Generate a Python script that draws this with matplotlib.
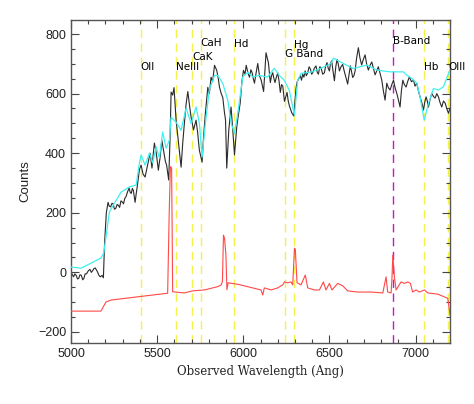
import matplotlib
matplotlib.use("Agg")
import matplotlib.pyplot as plt
from matplotlib.ticker import MultipleLocator

# observed spectrum (black)
obs_wave = [5000, 5008, 5015, 5022, 5030, 5038, 5045, 5052, 5060, 5068, 5075, 5082, 5090, 5100,
            5110, 5118, 5125, 5132, 5140, 5148, 5155, 5162, 5170, 5180, 5188, 5195,
            5205, 5215, 5222, 5230, 5238, 5245, 5252, 5260, 5268, 5275, 5282, 5290, 5298, 5305,
            5312, 5320, 5328, 5337, 5344, 5350, 5356, 5362, 5367, 5372, 5378, 5385,
            5397, 5407, 5418, 5430, 5438, 5445, 5459, 5470, 5477, 5484, 5495, 5507, 5518, 5527,
            5534, 5540, 5548, 5555,
            5567, 5575, 5581, 5590, 5598, 5610, 5625, 5639, 5648, 5658, 5668, 5678, 5688, 5697,
            5711, 5726, 5735, 5745,
            5761, 5770, 5780, 5794, 5803, 5813, 5822, 5833, 5846, 5855, 5862, 5872, 5881, 5890,
            5897, 5904, 5916, 5929, 5940, 5949, 5962,
            5972, 5982, 5992, 6001, 6010, 6017, 6027, 6036, 6044, 6051, 6058, 6065, 6074, 6084,
            6094, 6104, 6118, 6132, 6146, 6157, 6164, 6171, 6178, 6184,
            6192, 6200, 6208, 6215, 6222, 6229, 6239, 6247, 6254, 6261, 6268, 6281, 6293, 6306,
            6313, 6320, 6331, 6338, 6345, 6352, 6359, 6366, 6374,
            6382, 6390, 6397, 6403, 6412, 6422, 6429, 6436, 6444, 6451, 6461, 6471, 6478, 6486,
            6493, 6500, 6506, 6513, 6521, 6529, 6537, 6544, 6551, 6558, 6567, 6577, 6584, 6591,
            6598, 6606, 6614, 6622, 6628, 6635, 6642, 6649, 6658, 6668, 6677, 6687, 6697, 6707,
            6716, 6726, 6736, 6746, 6755, 6765, 6774, 6784, 6794, 6804, 6813, 6823, 6833,
            6842, 6852, 6862, 6872, 6881, 6891, 6900, 6910, 6918, 6926, 6935, 6945, 6954, 6964,
            6976, 6988, 6997, 7007, 7016, 7026, 7036, 7046, 7053, 7061, 7068, 7075, 7084, 7094,
            7104, 7114, 7123, 7133, 7142, 7152, 7162, 7172, 7181, 7191, 7200]
obs_flux = [0, -8, -15, -5, -10, -22, -20, -8, -10, -25, -20, -5, -5, 5,
            10, 0, 5, 12, 15, 8, 0, -10, -15, -10, -18, 100,
            200, 235, 222, 220, 232, 230, 212, 215, 228, 225, 218, 240, 236, 230,
            248, 255, 270, 283, 268, 265, 282, 275, 255, 235, 262, 290,
            345, 360, 330, 320, 342, 360, 400, 350, 395, 434, 400, 343, 390, 444,
            420, 400, 372, 360,
            310, 450, 605, 595, 620, 511, 430, 353, 430, 500, 565, 607, 560, 521,
            478, 511, 470, 410,
            370, 460, 534, 621, 600, 655, 640, 695, 678, 650, 621, 600, 587, 540,
            511, 350, 478, 555, 470, 394, 488,
            530, 568, 640, 678, 665, 695, 670, 655, 680, 671, 650, 635, 668, 701,
            660, 645, 607, 737, 703, 637, 660, 670, 650, 637,
            655, 670, 640, 604, 630, 626, 574, 590, 604, 575, 558, 536, 525, 618,
            640, 648, 660, 645, 665, 655, 676, 660, 670,
            690, 682, 665, 670, 685, 693, 672, 665, 690, 687, 665, 670, 692, 704,
            685, 676, 700, 710, 675, 643, 690, 715, 700, 676, 690, 698, 680, 665,
            650, 632, 665, 693, 675, 654, 660, 676, 720, 754, 720, 696, 715, 730,
            700, 679, 695, 706, 685, 663, 675, 690, 668, 645, 610, 578, 635,
            620, 612, 630, 645, 620, 601, 580, 555, 610, 645, 630, 622, 640, 656,
            640, 645, 625, 635, 610, 589, 570, 545, 570, 589, 575, 555, 580, 601,
            590, 585, 600, 589, 570, 555, 575, 568, 550, 534, 551]

# template fit (cyan)
tpl_wave = [5000, 5058, 5116, 5174, 5190, 5203, 5223, 5252, 5290, 5339, 5378, 5397, 5407,
            5430, 5455, 5474, 5494, 5513, 5532, 5552, 5571, 5581, 5610, 5639, 5668, 5697,
            5726, 5745, 5761, 5780, 5803, 5833, 5852, 5881, 5910, 5930, 5949, 5968, 5997,
            6026, 6055, 6094, 6133, 6142, 6180, 6209, 6238, 6267, 6287, 6297, 6316, 6335,
            6393, 6451, 6509, 6523, 6581, 6639, 6717, 6775, 6852, 6930, 6949, 6978, 7007,
            7026, 7050, 7075, 7104, 7133, 7162, 7191, 7200]
tpl_flux = [18, 14, 31, 48, 65, 119, 203, 232, 269, 287, 293, 367, 394,
            360, 400, 367, 421, 384, 471, 417, 444, 521, 504, 477, 551, 500,
            555, 500, 387, 500, 614, 661, 661, 634, 578, 500, 467, 534, 656,
            672, 656, 661, 656, 656, 685, 661, 645, 611, 555, 528, 645, 668,
            672, 685, 701, 719, 701, 684, 696, 679, 673, 673, 662, 651, 635,
            589, 511, 567, 617, 612, 623, 667, 680]

# sky spectrum (red)
sky_wave = [5000, 5174, 5203, 5232, 5387, 5561, 5570, 5577, 5584, 5590, 5658, 5707, 5774,
            5851, 5872, 5879, 5885, 5891, 5899, 5905, 5912, 5968, 6026, 6103, 6113, 6122, 6161,
            6200, 6229, 6239, 6258, 6277, 6287, 6297, 6302, 6312, 6335, 6360, 6374, 6413,
            6442, 6465, 6480, 6500, 6515, 6548, 6577, 6606, 6664, 6742, 6810, 6820, 6829,
            6838, 6858, 6863, 6868, 6877, 6887, 6916, 6935, 6955, 6970, 6983, 7003, 7022,
            7052, 7071, 7129, 7187, 7200]
sky_flux = [-130, -130, -99, -93, -82, -70, 200, 355, 350, -65, -69, -62, -59,
            -48, -42, -30, 125, 115, 60, -58, -35, -40, -48, -59, -76, -52, -59,
            -52, -42, -32, -35, -32, -42, 81, 78, -35, -42, -9, -52, -59,
            -59, -32, -59, -37, -59, -37, -45, -62, -66, -66, -69, -40, -15,
            -66, -69, -20, 58, -15, -59, -32, -37, -32, -37, -66, -59, -66,
            -59, -69, -73, -87, -143]

# spectral features
redshift = 0.45
line_names = ["OII", "NeIII", "CaK", "CaH", "Hd", "G Band", "Hg", "Hb", "OIII"]
line_rest = [3727, 3869, 3934, 3968, 4102, 4304, 4340, 4861, 4959]
label_y = [689, 689, 723, 770, 766, 733, 763, 689, 689]
bband_wave = 6870
bband_name = "B-Band"
bband_y = 777

fig = plt.figure(figsize=(4.74, 4.04), dpi=100)
ax = fig.add_axes([0.1498, 0.151, 0.7996, 0.7995])

for name, rest, ly in zip(line_names, line_rest, label_y):
    w = rest * (1 + redshift)
    ax.axvline(w, color="#f2f24a", lw=1.0, dashes=(6, 4), zorder=1)
    ax.text(w, ly, name, fontsize=7.5, family="DejaVu Sans", va="center", ha="left", zorder=5)
ax.axvline(bband_wave, color="#d010d0", lw=1.0, dashes=(6, 4), zorder=1)
ax.text(bband_wave, bband_y, bband_name, fontsize=7.5, family="DejaVu Sans", va="center", ha="left", zorder=5)

ax.plot(obs_wave, obs_flux, color="#2a2a2a", lw=0.8, zorder=2)
ax.plot(tpl_wave, tpl_flux, color="#40f0f0", lw=0.9, zorder=3)
ax.plot(sky_wave, sky_flux, color="#ff4848", lw=0.8, zorder=4)

ax.set_xlim(5000, 7200)
ax.set_ylim(-237, 847)
ax.xaxis.set_major_locator(MultipleLocator(500))
ax.xaxis.set_minor_locator(MultipleLocator(100))
ax.yaxis.set_major_locator(MultipleLocator(200))
ax.yaxis.set_minor_locator(MultipleLocator(50))
ax.tick_params(which="both", direction="in", top=True, right=True, colors="#444444",
               labelcolor="#222222", labelsize=9)
ax.tick_params(which="major", length=6, width=0.8)
ax.tick_params(which="minor", length=3, width=0.8)
for lab in ax.get_xticklabels() + ax.get_yticklabels():
    lab.set_family("Liberation Sans")
for sp in ax.spines.values():
    sp.set_color("#555555")
    sp.set_linewidth(1.0)

ax.set_xlabel("Observed Wavelength (Ang)", family="DejaVu Serif", fontsize=8.5, color="#222222")
ax.set_ylabel("Counts", family="Liberation Sans", fontsize=9.5, color="#222222", labelpad=5)

fig.savefig("out.png", dpi=100)
